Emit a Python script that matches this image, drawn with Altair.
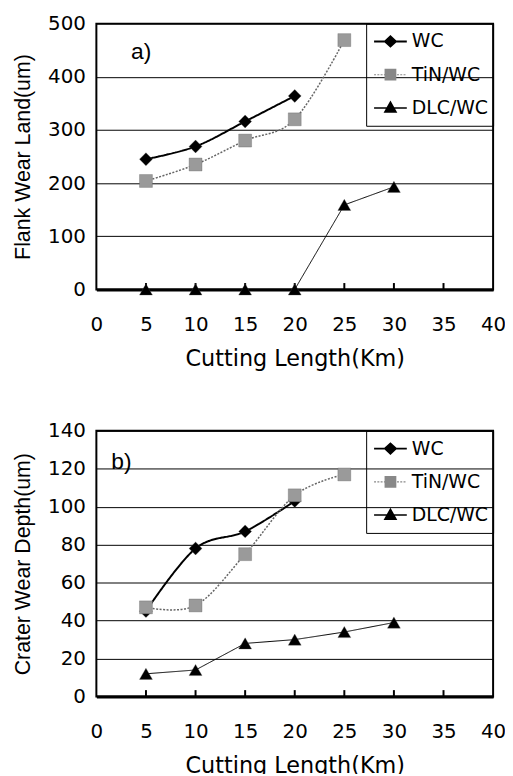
import altair as alt
import pandas as pd

# ---- data ----
cutting_length = [5, 10, 15, 20, 25, 30]
series_names = ["WC", "TiN/WC", "DLC/WC"]

flank_wc = [245, 269, 316, 364]
flank_tin = [204, 235, 280, 320, 469]
flank_dlc = [0, 0, 0, 0, 159, 193]

crater_wc = [45, 78, 87, 103]
crater_tin = [47, 48, 75, 106, 117]
crater_dlc = [12, 14, 28, 30, 34, 39]

x_ticks = [0, 5, 10, 15, 20, 25, 30, 35, 40]
inner_ticks = [5, 10, 15, 20, 25, 30, 35]
flank_ticks = [0, 100, 200, 300, 400, 500]
crater_ticks = [0, 20, 40, 60, 80, 100, 120, 140]
panel_tags = ["a)", "b)"]
y_titles = ["Flank Wear Land(um)", "Crater Wear Depth(um)"]
x_title = "Cutting Length(Km)"


def make_frame(wc, tin, dlc):
    rows = []
    for name, vals in zip(series_names, [wc, tin, dlc]):
        for x, v in zip(cutting_length, vals):
            rows.append({"length": x, "value": v, "series": name})
    return pd.DataFrame(rows)


# ---- styles ----
line_colors = ["black", "#666666", "black"]
line_dash = [[1, 0], [2, 1.5], [1, 0]]
line_width = [2, 1, 1.5]
point_shapes = ["diamond", "square", "triangle-up"]
point_fills = ["black", "#9a9a9a", "black"]


def dotted(half):
    parts = []
    s = -1.0
    while s < 1.0:
        e = min(s + 0.12, 1.0)
        parts.append(f"M{s:.3f},{-half}H{e:.3f}V{half}H{s:.3f}Z")
        s += 0.2
    return " ".join(parts)


legend_paths = [
    "M-1,-0.06H1V0.06H-1Z M-0.42,0L0,-0.39L0.42,0L0,0.39Z",
    dotted(0.035) + " M-0.36,-0.36H0.36V0.36H-0.36Z",
    "M-1,-0.045H1V0.045H-1Z M0,-0.45L0.42,0.3L-0.42,0.3Z",
]
legend_fills = ["black", "#888888", "black"]


def panel(df, y_title, y_ticks, y_max, tag, tag_x, tag_y, tick_len):
    x_axis = alt.Axis(values=x_ticks, title=x_title)
    y_axis = alt.Axis(values=y_ticks, title=y_title)
    x_scale = alt.Scale(domain=[0, 40], nice=False)
    y_scale = alt.Scale(domain=[0, y_max], nice=False)
    xs = alt.X("length:Q", scale=x_scale, axis=x_axis)
    ys = alt.Y("value:Q", scale=y_scale, axis=y_axis)
    stroke = alt.Stroke("series:N", scale=alt.Scale(domain=series_names, range=line_colors), legend=None)
    dash = alt.StrokeDash("series:N", scale=alt.Scale(domain=series_names, range=line_dash), legend=None)
    width = alt.StrokeWidth("series:N", scale=alt.Scale(domain=series_names, range=line_width), legend=None)

    base = alt.Chart(df)
    smooth = base.transform_filter(alt.datum.series != "DLC/WC").mark_line(
        interpolate="cardinal"
    ).encode(x=xs, y=ys, stroke=stroke, strokeDash=dash, strokeWidth=width)
    straight = base.transform_filter(alt.datum.series == "DLC/WC").mark_line().encode(
        x=xs, y=ys, stroke=stroke, strokeDash=dash, strokeWidth=width
    )
    ticks = alt.Chart(pd.DataFrame({"length": inner_ticks})).mark_rule(
        color="black", strokeWidth=2
    ).encode(
        x=alt.X("length:Q", scale=x_scale, axis=x_axis),
        y=alt.Y(datum=0, scale=y_scale, axis=y_axis),
        y2=alt.Y2(datum=tick_len),
    )
    points = base.mark_point(filled=True, opacity=1, size=170, stroke="#555555", strokeWidth=0.3).encode(
        x=xs,
        y=ys,
        shape=alt.Shape("series:N", scale=alt.Scale(domain=series_names, range=point_shapes), legend=None),
        fill=alt.Fill("series:N", scale=alt.Scale(domain=series_names, range=point_fills), legend=None),
    )
    leg = alt.Legend(
        title=None,
        orient="top-right",
        offset=0,
        padding=5,
        clipHeight=26,
        rowPadding=7.5,
        symbolOffset=3,
        symbolSize=1089,
        symbolStrokeWidth=0,
        symbolOpacity=1,
        labelOffset=5,
        labelExpr="datum.label + ' '",
        labelFont="DejaVu Sans",
        labelFontSize=19,
        labelColor="black",
        labelLimit=0,
        strokeColor="black",
    )
    legend_layer = base.transform_filter("false").mark_point(filled=True, opacity=1, size=1089).encode(
        x=xs,
        y=ys,
        shape=alt.Shape("series:N", scale=alt.Scale(domain=series_names, range=legend_paths), legend=leg),
        fill=alt.Fill("series:N", scale=alt.Scale(domain=series_names, range=legend_fills), legend=leg),
    )
    label = alt.Chart(pd.DataFrame({"tag": [tag]})).mark_text(
        align="left", baseline="alphabetic", font="Liberation Sans", fontSize=23, color="black"
    ).encode(x=alt.value(tag_x), y=alt.value(tag_y), text="tag:N")

    return alt.layer(smooth, straight, ticks, points, legend_layer, label).resolve_scale(
        shape="independent", fill="independent"
    ).properties(width=400, height=268)


top = panel(make_frame(flank_wc, flank_tin, flank_dlc), y_titles[0], flank_ticks, 500,
            panel_tags[0], 35, 36, 12)
bottom = panel(make_frame(crater_wc, crater_tin, crater_dlc), y_titles[1], crater_ticks, 140,
               panel_tags[1], 15, 39, 3.4)

chart = alt.vconcat(
    top, bottom, spacing=48.5, background="white",
    padding={"left": 3.1, "top": 1.6, "right": -2, "bottom": -8},
).configure_view(
    stroke="black", strokeWidth=2
).configure_axisX(
    domain=True, domainColor="black", domainWidth=3, ticks=False, grid=False,
    labelPadding=25, labelFont="DejaVu Sans", labelFontSize=20, labelColor="black",
    labelFlush=False, labelOverlap=False,
    titleFont="DejaVu Sans", titleFontSize=22.5, titleFontWeight="normal", titleColor="black",
    titlePadding=14,
).configure_axisY(
    domain=False, ticks=False, grid=True, gridColor="black", gridWidth=1, gridOpacity=1,
    labelPadding=11, labelFont="DejaVu Sans", labelFontSize=20, labelColor="black",
    labelFlush=False, labelOverlap=False,
    titleFont="Liberation Sans", titleFontSize=21.5, titleFontWeight="normal", titleColor="black",
    titlePadding=13.7,
)

chart.save("out.html", embed_options={"renderer": "svg", "actions": False})
